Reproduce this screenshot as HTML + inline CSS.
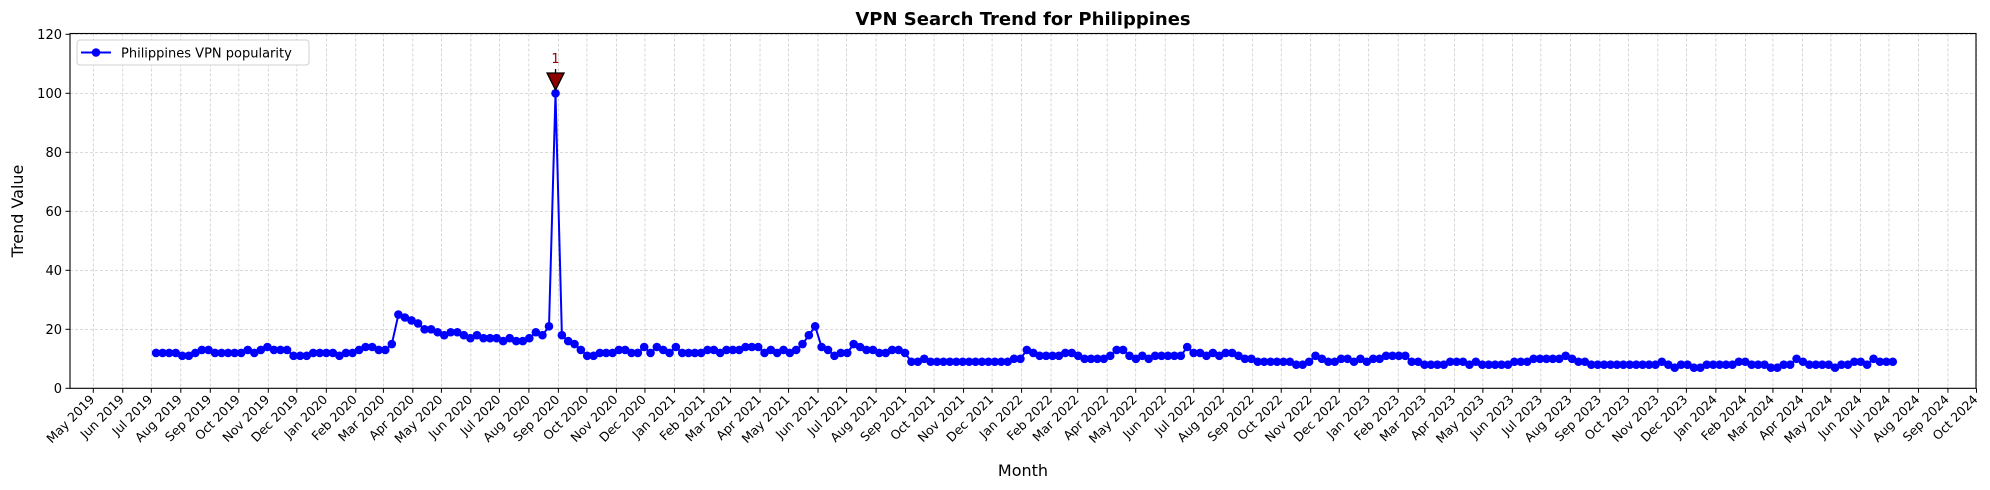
<!DOCTYPE html>
<html><head><meta charset="utf-8"><style>
html,body{margin:0;padding:0;background:#fff;}
svg{display:block;font-family:"DejaVu Sans","Liberation Sans",sans-serif;}
</style></head><body>
<svg id="c" width="1990" height="490" xmlns="http://www.w3.org/2000/svg"></svg>
<script>
const svg=document.getElementById('c');
const NS='http://www.w3.org/2000/svg';
function el(t,a,txt){const e=document.createElementNS(NS,t);for(const k in a)e.setAttribute(k,a[k]);if(txt!==undefined)e.textContent=txt;svg.appendChild(e);return e;}
const X0=93.3,K=0.9511;
const base=Date.UTC(2019,4,1);
const dx=d=>X0+d*K;
const yv=v=>388.3-2.95*v;
const L=70,R=1976,T=33.5,B=388.3;
for(let v=0;v<=120;v+=20){const y=yv(v);
 el('line',{x1:L,x2:R,y1:y,y2:y,stroke:'#c4c4c4','stroke-width':0.7,'stroke-dasharray':'3,2'});
 el('line',{x1:L-4.5,x2:L,y1:y,y2:y,stroke:'#000','stroke-width':1});
 el('text',{x:L-8,y:y+4.5,'font-size':13,'text-anchor':'end'},String(v));}
const mn=['Jan','Feb','Mar','Apr','May','Jun','Jul','Aug','Sep','Oct','Nov','Dec'];
for(let m=4;m<=4+65;m++){const yr=2019+Math.floor(m/12),mo=m%12;
 const d=(Date.UTC(yr,mo,1)-base)/864e5;const x=dx(d);
 el('line',{x1:x,x2:x,y1:T,y2:B,stroke:'#c4c4c4','stroke-width':0.7,'stroke-dasharray':'3,2'});
 el('line',{x1:x,x2:x,y1:B,y2:B+4.5,stroke:'#000','stroke-width':1});
 el('text',{x:x+2,y:B+12,'font-size':12.5,'text-anchor':'end',transform:`rotate(-45 ${x+2} ${B+12})`},mn[mo]+' '+yr);}
const s1=[12,12,12,12,11,11,12,13,13,12,12,12,12,12,13,12,13,14,13,13,13,11,11,11,12,12,12,12,11,12,12,13,14,14,13,13,15,25,24,23,22,20,20,19,18,19,19,18,17,18,17,17,17,16,17,16,16,17,19,18,21,100];
const a=[100,18,16,15,13,11,11,12,12,12,13,13,12,12,14,12,14,13,12,14,12,12,12,12,13,13,12,13,13,13,14,14,14,12,13,12,13,12,13,15,18,21];
const b=[14,13,11,12,12,15,14,13,13,12,12,13,13,12,9,9,10,9,9,9,9,9,9,9,9,9,9,9,9,9,10,10,13,12,11,11,11,11,12,12,11,10,10,10,10,11,13,13,11,10,11,10,11,11,11,11,11,14,12,12,11,12,11,12,12,11,10,10,9,9,9,9,9,9,8,8,9,11,10,9,9,10,10,9,10,9,10,10,11,11,11,11,9,9,8,8,8,8,9,9,9,8,9,8,8,8,8,8,9,9,9,10,10,10,10,10,11,10,9,9,8,8,8,8,8,8,8,8,8,8,8,9,8,7,8,8,7,7,8,8,8,8,8,9,9,8,8,8,7,7,8,8,10,9,8,8,8,8,7,8,8,9,9,8,10,9,9,9];
const pts=[];
const dS=66,dP=486,dJ=759,dE=1892;
s1.forEach((v,i)=>{if(i<s1.length-1)pts.push([dx(dS+(dP-dS)*i/(s1.length-1)),yv(v)]);});
a.forEach((v,i)=>pts.push([dx(dP+(dJ-dP)*i/(a.length-1)),yv(v)]));
b.forEach((v,i)=>pts.push([dx(dJ+(dE-dJ)*(i+1)/b.length),yv(v)]));
el('polyline',{points:pts.map(p=>p[0].toFixed(1)+','+p[1].toFixed(1)).join(' '),fill:'none',stroke:'#0000ff','stroke-width':2});
pts.forEach(p=>el('circle',{cx:p[0],cy:p[1],r:4.3,fill:'#0000ff'}));
const px=dx(dP);
el('line',{x1:px,x2:px,y1:69,y2:76,stroke:'#000','stroke-width':1.3});
el('polygon',{points:`${px-8.5},73 ${px+8.5},73 ${px},90`,fill:'#8b0000',stroke:'#000','stroke-width':1.3});
el('text',{x:px,y:63,'font-size':13,'text-anchor':'middle',fill:'#8b0000'},'1');
el('rect',{x:L,y:T,width:R-L,height:B-T,fill:'none',stroke:'#000','stroke-width':1.1});
el('rect',{x:77,y:40,width:232,height:25,rx:3,fill:'#fff',stroke:'#d0d0d0','stroke-width':1});
el('line',{x1:81,x2:111,y1:52.5,y2:52.5,stroke:'#0000ff','stroke-width':2});
el('circle',{cx:96,cy:52.5,r:4.3,fill:'#0000ff'});
el('text',{x:121,y:57.5,'font-size':13},'Philippines VPN popularity');
el('text',{x:1023,y:25,'font-size':18,'font-weight':'bold','text-anchor':'middle'},'VPN Search Trend for Philippines');
el('text',{x:1023,y:476,'font-size':16,'text-anchor':'middle'},'Month');
el('text',{x:23,y:211,'font-size':16,'text-anchor':'middle',transform:'rotate(-90 23 211)'},'Trend Value');
</script>
</body></html>
